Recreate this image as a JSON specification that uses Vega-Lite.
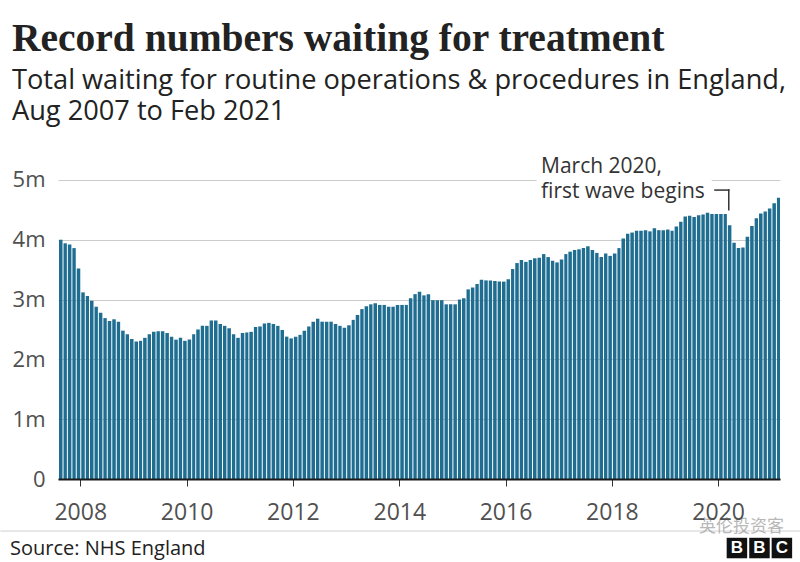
{
  "$schema": "https://vega.github.io/schema/vega-lite/v6.json",
  "description": "Total waiting for routine operations and procedures in England, Aug 2007 to Feb 2021",
  "width": 722,
  "height": 329,
  "autosize": {"type": "none"},
  "padding": {"left": 58, "top": 150, "right": 20, "bottom": 83},
  "background": "white",
  "title": {
    "text": "Record numbers waiting for treatment",
    "subtitle": ["Total waiting for routine operations & procedures in England,", "Aug 2007 to Feb 2021"],
    "anchor": "start",
    "frame": "group",
    "dx": -46,
    "offset": 24,
    "font": "Liberation Serif",
    "fontSize": 39.5,
    "fontWeight": "bold",
    "color": "#222222",
    "subtitleFont": "Open Sans",
    "subtitleFontSize": 27.2,
    "subtitleColor": "#222222",
    "subtitleLineHeight": 31,
    "subtitlePadding": 8
  },
  "datasets": {
    "waiting": [
      {"month": "2007-08-01", "waiting": 4.00},
      {"month": "2007-09-01", "waiting": 3.94},
      {"month": "2007-10-01", "waiting": 3.92},
      {"month": "2007-11-01", "waiting": 3.86},
      {"month": "2007-12-01", "waiting": 3.52},
      {"month": "2008-01-01", "waiting": 3.12},
      {"month": "2008-02-01", "waiting": 3.06},
      {"month": "2008-03-01", "waiting": 2.98},
      {"month": "2008-04-01", "waiting": 2.88},
      {"month": "2008-05-01", "waiting": 2.78},
      {"month": "2008-06-01", "waiting": 2.69},
      {"month": "2008-07-01", "waiting": 2.64},
      {"month": "2008-08-01", "waiting": 2.67},
      {"month": "2008-09-01", "waiting": 2.63},
      {"month": "2008-10-01", "waiting": 2.48},
      {"month": "2008-11-01", "waiting": 2.42},
      {"month": "2008-12-01", "waiting": 2.34},
      {"month": "2009-01-01", "waiting": 2.30},
      {"month": "2009-02-01", "waiting": 2.31},
      {"month": "2009-03-01", "waiting": 2.36},
      {"month": "2009-04-01", "waiting": 2.42},
      {"month": "2009-05-01", "waiting": 2.46},
      {"month": "2009-06-01", "waiting": 2.47},
      {"month": "2009-07-01", "waiting": 2.47},
      {"month": "2009-08-01", "waiting": 2.44},
      {"month": "2009-09-01", "waiting": 2.38},
      {"month": "2009-10-01", "waiting": 2.33},
      {"month": "2009-11-01", "waiting": 2.36},
      {"month": "2009-12-01", "waiting": 2.31},
      {"month": "2010-01-01", "waiting": 2.33},
      {"month": "2010-02-01", "waiting": 2.42},
      {"month": "2010-03-01", "waiting": 2.50},
      {"month": "2010-04-01", "waiting": 2.56},
      {"month": "2010-05-01", "waiting": 2.56},
      {"month": "2010-06-01", "waiting": 2.65},
      {"month": "2010-07-01", "waiting": 2.65},
      {"month": "2010-08-01", "waiting": 2.59},
      {"month": "2010-09-01", "waiting": 2.56},
      {"month": "2010-10-01", "waiting": 2.52},
      {"month": "2010-11-01", "waiting": 2.42},
      {"month": "2010-12-01", "waiting": 2.36},
      {"month": "2011-01-01", "waiting": 2.44},
      {"month": "2011-02-01", "waiting": 2.45},
      {"month": "2011-03-01", "waiting": 2.46},
      {"month": "2011-04-01", "waiting": 2.54},
      {"month": "2011-05-01", "waiting": 2.55},
      {"month": "2011-06-01", "waiting": 2.60},
      {"month": "2011-07-01", "waiting": 2.61},
      {"month": "2011-08-01", "waiting": 2.59},
      {"month": "2011-09-01", "waiting": 2.56},
      {"month": "2011-10-01", "waiting": 2.49},
      {"month": "2011-11-01", "waiting": 2.38},
      {"month": "2011-12-01", "waiting": 2.35},
      {"month": "2012-01-01", "waiting": 2.38},
      {"month": "2012-02-01", "waiting": 2.41},
      {"month": "2012-03-01", "waiting": 2.48},
      {"month": "2012-04-01", "waiting": 2.55},
      {"month": "2012-05-01", "waiting": 2.63},
      {"month": "2012-06-01", "waiting": 2.68},
      {"month": "2012-07-01", "waiting": 2.63},
      {"month": "2012-08-01", "waiting": 2.63},
      {"month": "2012-09-01", "waiting": 2.63},
      {"month": "2012-10-01", "waiting": 2.59},
      {"month": "2012-11-01", "waiting": 2.56},
      {"month": "2012-12-01", "waiting": 2.53},
      {"month": "2013-01-01", "waiting": 2.57},
      {"month": "2013-02-01", "waiting": 2.66},
      {"month": "2013-03-01", "waiting": 2.74},
      {"month": "2013-04-01", "waiting": 2.84},
      {"month": "2013-05-01", "waiting": 2.89},
      {"month": "2013-06-01", "waiting": 2.92},
      {"month": "2013-07-01", "waiting": 2.94},
      {"month": "2013-08-01", "waiting": 2.91},
      {"month": "2013-09-01", "waiting": 2.91},
      {"month": "2013-10-01", "waiting": 2.88},
      {"month": "2013-11-01", "waiting": 2.88},
      {"month": "2013-12-01", "waiting": 2.91},
      {"month": "2014-01-01", "waiting": 2.91},
      {"month": "2014-02-01", "waiting": 2.91},
      {"month": "2014-03-01", "waiting": 3.02},
      {"month": "2014-04-01", "waiting": 3.09},
      {"month": "2014-05-01", "waiting": 3.13},
      {"month": "2014-06-01", "waiting": 3.07},
      {"month": "2014-07-01", "waiting": 3.09},
      {"month": "2014-08-01", "waiting": 2.99},
      {"month": "2014-09-01", "waiting": 2.99},
      {"month": "2014-10-01", "waiting": 2.99},
      {"month": "2014-11-01", "waiting": 2.92},
      {"month": "2014-12-01", "waiting": 2.92},
      {"month": "2015-01-01", "waiting": 2.92},
      {"month": "2015-02-01", "waiting": 3.00},
      {"month": "2015-03-01", "waiting": 3.02},
      {"month": "2015-04-01", "waiting": 3.17},
      {"month": "2015-05-01", "waiting": 3.20},
      {"month": "2015-06-01", "waiting": 3.26},
      {"month": "2015-07-01", "waiting": 3.33},
      {"month": "2015-08-01", "waiting": 3.32},
      {"month": "2015-09-01", "waiting": 3.32},
      {"month": "2015-10-01", "waiting": 3.31},
      {"month": "2015-11-01", "waiting": 3.30},
      {"month": "2015-12-01", "waiting": 3.30},
      {"month": "2016-01-01", "waiting": 3.34},
      {"month": "2016-02-01", "waiting": 3.51},
      {"month": "2016-03-01", "waiting": 3.61},
      {"month": "2016-04-01", "waiting": 3.66},
      {"month": "2016-05-01", "waiting": 3.63},
      {"month": "2016-06-01", "waiting": 3.66},
      {"month": "2016-07-01", "waiting": 3.69},
      {"month": "2016-08-01", "waiting": 3.70},
      {"month": "2016-09-01", "waiting": 3.76},
      {"month": "2016-10-01", "waiting": 3.71},
      {"month": "2016-11-01", "waiting": 3.65},
      {"month": "2016-12-01", "waiting": 3.62},
      {"month": "2017-01-01", "waiting": 3.67},
      {"month": "2017-02-01", "waiting": 3.76},
      {"month": "2017-03-01", "waiting": 3.80},
      {"month": "2017-04-01", "waiting": 3.83},
      {"month": "2017-05-01", "waiting": 3.84},
      {"month": "2017-06-01", "waiting": 3.86},
      {"month": "2017-07-01", "waiting": 3.89},
      {"month": "2017-08-01", "waiting": 3.83},
      {"month": "2017-09-01", "waiting": 3.78},
      {"month": "2017-10-01", "waiting": 3.71},
      {"month": "2017-11-01", "waiting": 3.77},
      {"month": "2017-12-01", "waiting": 3.73},
      {"month": "2018-01-01", "waiting": 3.77},
      {"month": "2018-02-01", "waiting": 3.86},
      {"month": "2018-03-01", "waiting": 4.02},
      {"month": "2018-04-01", "waiting": 4.10},
      {"month": "2018-05-01", "waiting": 4.12},
      {"month": "2018-06-01", "waiting": 4.15},
      {"month": "2018-07-01", "waiting": 4.15},
      {"month": "2018-08-01", "waiting": 4.16},
      {"month": "2018-09-01", "waiting": 4.14},
      {"month": "2018-10-01", "waiting": 4.19},
      {"month": "2018-11-01", "waiting": 4.16},
      {"month": "2018-12-01", "waiting": 4.16},
      {"month": "2019-01-01", "waiting": 4.17},
      {"month": "2019-02-01", "waiting": 4.15},
      {"month": "2019-03-01", "waiting": 4.22},
      {"month": "2019-04-01", "waiting": 4.30},
      {"month": "2019-05-01", "waiting": 4.39},
      {"month": "2019-06-01", "waiting": 4.40},
      {"month": "2019-07-01", "waiting": 4.38},
      {"month": "2019-08-01", "waiting": 4.41},
      {"month": "2019-09-01", "waiting": 4.42},
      {"month": "2019-10-01", "waiting": 4.45},
      {"month": "2019-11-01", "waiting": 4.43},
      {"month": "2019-12-01", "waiting": 4.43},
      {"month": "2020-01-01", "waiting": 4.43},
      {"month": "2020-02-01", "waiting": 4.43},
      {"month": "2020-03-01", "waiting": 4.24},
      {"month": "2020-04-01", "waiting": 3.95},
      {"month": "2020-05-01", "waiting": 3.86},
      {"month": "2020-06-01", "waiting": 3.87},
      {"month": "2020-07-01", "waiting": 4.05},
      {"month": "2020-08-01", "waiting": 4.23},
      {"month": "2020-09-01", "waiting": 4.36},
      {"month": "2020-10-01", "waiting": 4.44},
      {"month": "2020-11-01", "waiting": 4.47},
      {"month": "2020-12-01", "waiting": 4.52},
      {"month": "2021-01-01", "waiting": 4.61},
      {"month": "2021-02-01", "waiting": 4.70}
    ]
  },
  "layer": [
    {
      "data": {"values": [{}]},
      "mark": {"type": "rect", "color": "white"},
      "encoding": {
        "x": {"datum": {"year": 2016, "month": 8, "date": 1, "utc": true}, "type": "temporal"},
        "x2": {"datum": {"year": 2019, "month": 11, "date": 18, "utc": true}},
        "y": {"datum": 4.6, "type": "quantitative"},
        "y2": {"datum": 5.45}
      }
    },
    {
      "data": {"name": "waiting"},
      "mark": {"type": "bar", "color": "#1f6e92", "binSpacing": 1},
      "encoding": {
        "x": {
          "field": "month",
          "type": "temporal",
          "timeUnit": "utcyearmonth",
          "scale": {
            "type": "utc",
            "domain": [
              {"year": 2007, "month": 8, "date": 1, "utc": true},
              {"year": 2021, "month": 3, "date": 1, "utc": true}
            ]
          },
          "axis": {
            "title": null,
            "values": [
              {"year": 2008, "month": 1, "date": 1, "utc": true},
              {"year": 2010, "month": 1, "date": 1, "utc": true},
              {"year": 2012, "month": 1, "date": 1, "utc": true},
              {"year": 2014, "month": 1, "date": 1, "utc": true},
              {"year": 2016, "month": 1, "date": 1, "utc": true},
              {"year": 2018, "month": 1, "date": 1, "utc": true},
              {"year": 2020, "month": 1, "date": 1, "utc": true}
            ],
            "labelExpr": "utcFormat(datum.value, '%Y')",
            "grid": false,
            "domainColor": "#1a1a1a",
            "domainWidth": 2,
            "tickSize": 7,
            "tickColor": "#333333",
            "labelFont": "Open Sans",
            "labelFontSize": 23,
            "labelColor": "#505050",
            "labelPadding": 15,
            "labelFlush": false,
            "zindex": 1
          }
        },
        "y": {
          "field": "waiting",
          "type": "quantitative",
          "scale": {"domain": [0, 5.5], "nice": false},
          "axis": {
            "title": null,
            "values": [0, 1, 2, 3, 4, 5],
            "labelExpr": "datum.value == 0 ? '0' : datum.value + 'm'",
            "grid": true,
            "gridColor": "#cccccc",
            "domain": false,
            "ticks": false,
            "labelFont": "Open Sans",
            "labelFontSize": 22,
            "labelColor": "#505050",
            "labelPadding": 13
          }
        }
      }
    },
    {
      "data": {"values": [{}]},
      "mark": {"type": "rule", "color": "#333333", "strokeWidth": 1.5, "strokeCap": "square"},
      "encoding": {
        "x": {"datum": {"year": 2019, "month": 12, "date": 10, "utc": true}, "type": "temporal"},
        "x2": {"datum": {"year": 2020, "month": 3, "date": 14, "utc": true}},
        "y": {"datum": 4.83, "type": "quantitative"}
      }
    },
    {
      "data": {"values": [{}]},
      "mark": {"type": "rule", "color": "#333333", "strokeWidth": 1.5, "strokeCap": "square"},
      "encoding": {
        "x": {"datum": {"year": 2020, "month": 3, "date": 14, "utc": true}, "type": "temporal"},
        "y": {"datum": 4.83, "type": "quantitative"},
        "y2": {"datum": 4.5}
      }
    },
    {
      "data": {"values": [{}]},
      "mark": {"type": "text", "align": "left", "baseline": "alphabetic", "font": "Open Sans", "fontSize": 21, "color": "#333333", "lineHeight": 25},
      "encoding": {
        "x": {"datum": {"year": 2016, "month": 9, "date": 1, "utc": true}, "type": "temporal"},
        "y": {"datum": 5.12, "type": "quantitative"},
        "text": {"value": ["March 2020,", "first wave begins"]}
      }
    },
    {
      "data": {"values": [{}]},
      "mark": {"type": "rule", "color": "#d0d0d0", "strokeWidth": 1},
      "encoding": {
        "x": {"datum": {"year": 2006, "month": 7, "date": 1, "utc": true}, "type": "temporal"},
        "x2": {"datum": {"year": 2021, "month": 8, "date": 1, "utc": true}},
        "y": {"datum": -0.87, "type": "quantitative"}
      }
    },
    {
      "data": {"values": [{}]},
      "mark": {"type": "text", "align": "left", "baseline": "alphabetic", "font": "Open Sans", "fontSize": 20, "color": "#222222"},
      "encoding": {
        "x": {"datum": {"year": 2006, "month": 9, "date": 5, "utc": true}, "type": "temporal"},
        "y": {"datum": -1.27, "type": "quantitative"},
        "text": {"value": "Source: NHS England"}
      }
    },
    {
      "data": {"values": [{}]},
      "mark": {"type": "text", "align": "center", "baseline": "middle", "font": "Noto Sans CJK SC", "fontSize": 17, "color": "#8a8a8a", "opacity": 0.6},
      "encoding": {
        "x": {"datum": {"year": 2020, "month": 6, "date": 10, "utc": true}, "type": "temporal"},
        "y": {"datum": -0.8, "type": "quantitative"},
        "text": {"value": "英伦投资客"}
      }
    },
    {
      "data": {"values": [{}]},
      "encoding": {
        "x": {"datum": {"year": 2020, "month": 5, "date": 9, "utc": true}, "type": "temporal"},
        "y": {"datum": -1.154, "type": "quantitative"}
      },
      "layer": [
        {"mark": {"type": "square", "size": 420, "color": "#111111", "opacity": 1}},
        {"mark": {"type": "text", "font": "Liberation Sans", "fontWeight": "bold", "fontSize": 17, "color": "white", "baseline": "middle", "align": "center"}, "encoding": {"text": {"value": "B"}}}
      ]
    },
    {
      "data": {"values": [{}]},
      "encoding": {
        "x": {"datum": {"year": 2020, "month": 10, "date": 11, "utc": true}, "type": "temporal"},
        "y": {"datum": -1.154, "type": "quantitative"}
      },
      "layer": [
        {"mark": {"type": "square", "size": 420, "color": "#111111", "opacity": 1}},
        {"mark": {"type": "text", "font": "Liberation Sans", "fontWeight": "bold", "fontSize": 17, "color": "white", "baseline": "middle", "align": "center"}, "encoding": {"text": {"value": "B"}}}
      ]
    },
    {
      "data": {"values": [{}]},
      "encoding": {
        "x": {"datum": {"year": 2021, "month": 3, "date": 14, "utc": true}, "type": "temporal"},
        "y": {"datum": -1.154, "type": "quantitative"}
      },
      "layer": [
        {"mark": {"type": "square", "size": 420, "color": "#111111", "opacity": 1}},
        {"mark": {"type": "text", "font": "Liberation Sans", "fontWeight": "bold", "fontSize": 17, "color": "white", "baseline": "middle", "align": "center"}, "encoding": {"text": {"value": "C"}}}
      ]
    }
  ],
  "config": {
    "view": {"stroke": null},
    "text": {"font": "Open Sans"}
  }
}
